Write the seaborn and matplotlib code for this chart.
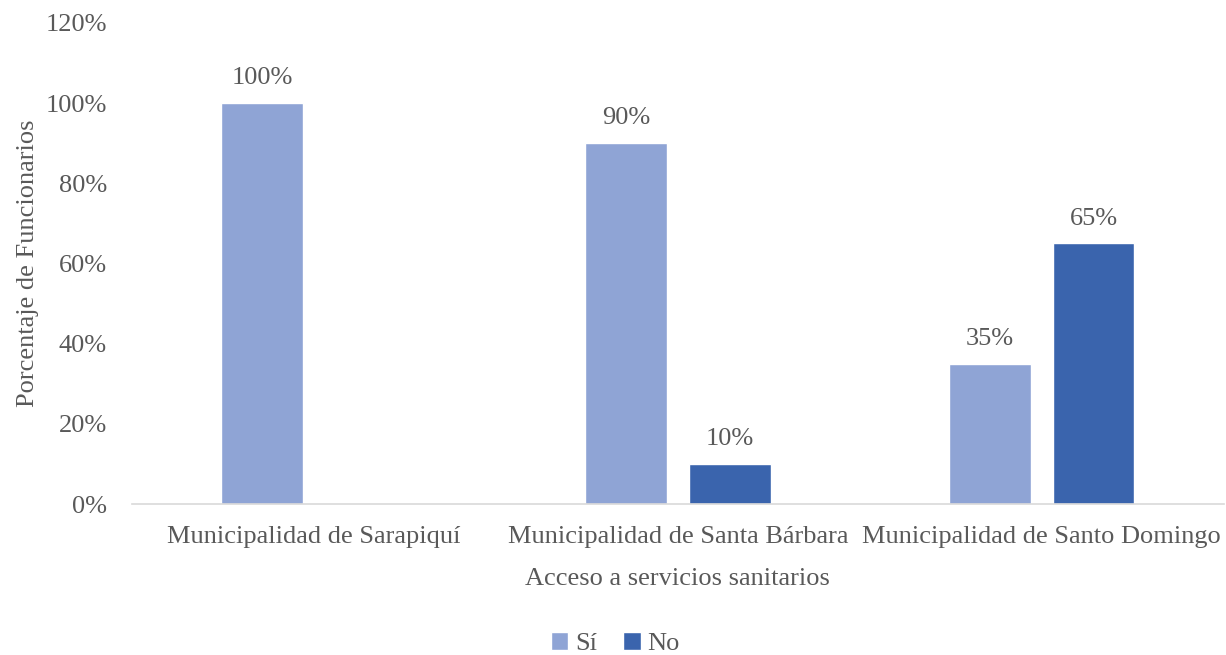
import pandas as pd
import numpy as np
import seaborn as sns
import matplotlib.pyplot as plt

categories = ['Municipalidad de Sarapiquí', 'Municipalidad de Santa Bárbara', 'Municipalidad de Santo Domingo']
si_vals = [100, 90, 35]
no_vals = [np.nan, 10, 65]
series = ['Sí', 'No']
colors = ['#8FA4D5', '#3A64AD']
text_color = '#595959'

df = pd.DataFrame({
    'Municipalidad': categories * 2,
    'Respuesta': ['Sí'] * 3 + ['No'] * 3,
    'Valor': si_vals + no_vals,
})

sns.set_style('white')
plt.rcParams['font.family'] = ['Liberation Serif', 'DejaVu Serif']
fs = 19

fig = plt.figure(figsize=(12.26, 6.55), dpi=100)
ax = fig.add_axes([0.1077, 0.2305, 0.8903, 0.7344])

sns.barplot(data=df, x='Municipalidad', y='Valor', hue='Respuesta', hue_order=series,
            palette=colors, width=0.57, gap=0.21, ax=ax, legend=True, saturation=1)

# value labels
for container in ax.containers:
    labels = ['' if np.isnan(v) else f'{v:.0f}%' for v in container.datavalues]
    ax.bar_label(container, labels=labels, padding=10, fontsize=fs, color=text_color)

ax.set_ylim(0, 120)
ax.set_yticks(range(0, 121, 20))
ax.set_yticklabels([f'{t}%' for t in range(0, 121, 20)])
ax.set_xlim(-0.5, 2.5)
ax.tick_params(axis='both', labelsize=fs, colors=text_color, length=0)
ax.tick_params(axis='y', pad=18)
ax.tick_params(axis='x', pad=16)

for side in ['top', 'right', 'left']:
    ax.spines[side].set_visible(False)
ax.spines['bottom'].set_color('#D9D9D9')
ax.spines['bottom'].set_linewidth(1.2)

ax.set_xlabel('Acceso a servicios sanitarios', fontsize=fs, color=text_color, labelpad=14)
ax.set_ylabel('Porcentaje de Funcionarios', fontsize=fs, color=text_color, labelpad=5)

handles, labels = ax.get_legend_handles_labels()
ax.get_legend().remove()
fig.legend(handles, labels, loc='center', bbox_to_anchor=(0.502, 0.017), ncol=2, frameon=False,
           fontsize=fs, labelcolor=text_color, handlelength=0.65, handleheight=0.65,
           handletextpad=0.25, columnspacing=1.0, borderpad=0)

fig.savefig('out.png', dpi=100)
